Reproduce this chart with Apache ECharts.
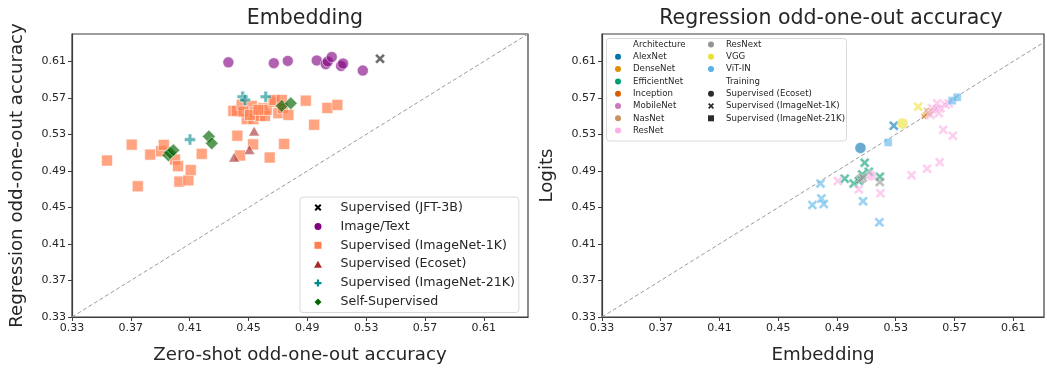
<!DOCTYPE html>
<html>
<head>
<meta charset="utf-8">
<script src="https://cdn.jsdelivr.net/npm/echarts@6.0.0/dist/echarts.min.js"></script>
<style>
  html, body { margin: 0; padding: 0; background: #fff; }
  #chart { width: 1047px; height: 369px; }
</style>
</head>
<body>
<div id="chart"></div>
<script>
// ---- tick labels shared by both panels ----
const tickValues = [0.33, 0.37, 0.41, 0.45, 0.49, 0.53, 0.57, 0.61];
const axisMin = 0.33;
const axisMax = 0.64;
const rightXMax = 0.631;

// ---- left panel: zero-shot vs regression accuracy, by training data ----
const leftGroups = ['Supervised (JFT-3B)', 'Image/Text', 'Supervised (ImageNet-1K)',
                    'Supervised (Ecoset)', 'Supervised (ImageNet-21K)', 'Self-Supervised'];
const jft3b = [[0.5394, 0.613]];
const imageText = [[0.4363, 0.609], [0.4672, 0.608], [0.4767, 0.6105], [0.4964, 0.611],
                   [0.5025, 0.607], [0.5039, 0.610], [0.5066, 0.6148], [0.5129, 0.605],
                   [0.5143, 0.6077], [0.5277, 0.600]];
const imagenet1k = [[0.3538, 0.5014], [0.3706, 0.5188], [0.3747, 0.4732], [0.3832, 0.5079],
                    [0.3905, 0.5115], [0.3924, 0.5185], [0.4000, 0.5025], [0.4021, 0.4952],
                    [0.4030, 0.4783], [0.4091, 0.4797], [0.4107, 0.4909], [0.4182, 0.5087],
                    [0.4424, 0.5286], [0.4442, 0.5069], [0.4531, 0.5191], [0.4644, 0.5047],
                    [0.4742, 0.5196], [0.4889, 0.5670], [0.4946, 0.5406], [0.5036, 0.5590],
                    [0.5104, 0.5623], [0.4397, 0.5558], [0.4420, 0.5558], [0.4454, 0.5623],
                    [0.4488, 0.5468], [0.4522, 0.5612], [0.4533, 0.5468], [0.4544, 0.5540],
                    [0.4578, 0.5503], [0.4601, 0.5587], [0.4612, 0.5503], [0.4624, 0.5569],
                    [0.4669, 0.5659], [0.4676, 0.5677], [0.4703, 0.5533], [0.4726, 0.5677],
                    [0.4733, 0.5587], [0.4771, 0.5514], [0.4465, 0.5550], [0.4510, 0.5514],
                    [0.4567, 0.5569]];
const ecoset = [[0.4402, 0.5050], [0.4506, 0.5134], [0.4538, 0.5337]];
const imagenet21k = [[0.4102, 0.5243], [0.4460, 0.5713], [0.4476, 0.5677], [0.4617, 0.5713]];
const selfSupervised = [[0.3955, 0.5072], [0.3966, 0.5098], [0.3989, 0.5126], [0.4230, 0.5278],
                        [0.4250, 0.5202], [0.4726, 0.5612], [0.4787, 0.5641]];

// ---- right panel: embedding vs logits accuracy, by architecture ----
// each point: [embedding, logits, training index]
const trainingNames = ['Supervised (Ecoset)', 'Supervised (ImageNet-1K)', 'Supervised (ImageNet-21K)'];
const architectures = ['AlexNet', 'DenseNet', 'EfficientNet', 'Inception', 'MobileNet',
                       'NasNet', 'ResNet', 'ResNext', 'VGG', 'ViT-IN'];
const alexnet = [[0.5060, 0.5152, 0], [0.5287, 0.5395, 1]];
const densenet = [[0.5503, 0.5514, 1], [0.5525, 0.5545, 1], [0.5540, 0.5560, 1]];
const efficientnet = [[0.5089, 0.4989, 1], [0.4953, 0.4815, 1], [0.5014, 0.4761, 1],
                      [0.5072, 0.4862, 1], [0.5117, 0.4891, 1], [0.5192, 0.4837, 1],
                      [0.5049, 0.4789, 1]];
const inception = [[0.5492, 0.5496, 1], [0.5515, 0.5530, 1]];
const mobilenet = [[0.5560, 0.5560, 1], [0.5575, 0.5590, 1]];
const nasnet = [[0.5510, 0.5565, 1], [0.5530, 0.5525, 1]];
const resnet = [[0.5133, 0.4851, 0], [0.4906, 0.4789, 1], [0.5049, 0.4699, 1], [0.5196, 0.4656, 1],
                [0.5408, 0.4854, 1], [0.5514, 0.4924, 1], [0.5600, 0.4996, 1], [0.5624, 0.5351, 1],
                [0.5689, 0.5286, 1], [0.5583, 0.5641, 1], [0.5605, 0.5587, 1], [0.5549, 0.5587, 1],
                [0.5639, 0.5623, 1], [0.5594, 0.5533, 1], [0.5537, 0.5514, 1], [0.5662, 0.5641, 1]];
const resnext = [[0.5060, 0.4808, 1], [0.5192, 0.4778, 1], [0.5075, 0.4826, 1]];
const vgg = [[0.5346, 0.5420, 0], [0.5453, 0.5604, 1]];
const vitIn = [[0.5249, 0.5213, 2], [0.5685, 0.5670, 2], [0.5719, 0.5707, 2], [0.4788, 0.4761, 1],
               [0.4733, 0.4528, 1], [0.4794, 0.4598, 1], [0.4810, 0.4539, 1], [0.5078, 0.4569, 1],
               [0.5189, 0.4337, 1]];

// ---- styling ----
const FONT = 'DejaVu Sans';
const INK = '#262626';
const SPINE = '#3d3d3d';
// marker outlines as paths so they keep a square aspect everywhere
const X_PATH = 'path://M0,2L2,0L5,3L8,0L10,2L7,5L10,8L8,10L5,7L2,10L0,8L3,5Z';
const PLUS_PATH = 'path://M3.4,0H6.6V3.4H10V6.6H6.6V10H3.4V6.6H0V3.4H3.4Z';
const SQUARE_PATH = 'path://M0,0H10V10H0Z';
const TRIANGLE_PATH = 'path://M5,0.6L10,9.4H0Z';
const DIAMOND_PATH = 'path://M5,0L10,5L5,10L0,5Z';

const leftStyles = {
  'Supervised (JFT-3B)':       { color: '#000000', symbol: X_PATH,        size: 10, opacity: 0.6 },
  'Image/Text':                { color: '#800080', symbol: 'circle',      size: 11, opacity: 0.62 },
  'Supervised (ImageNet-1K)':  { color: '#ff7f50', symbol: SQUARE_PATH,   size: 11, opacity: 0.72 },
  'Supervised (Ecoset)':       { color: '#a52a2a', symbol: TRIANGLE_PATH, size: 11, opacity: 0.6 },
  'Supervised (ImageNet-21K)': { color: '#008b8b', symbol: PLUS_PATH,     size: 11, opacity: 0.6 },
  'Self-Supervised':           { color: '#006400', symbol: DIAMOND_PATH,  size: 13, opacity: 0.65 }
};
const leftData = {
  'Supervised (JFT-3B)': jft3b,
  'Image/Text': imageText,
  'Supervised (ImageNet-1K)': imagenet1k,
  'Supervised (Ecoset)': ecoset,
  'Supervised (ImageNet-21K)': imagenet21k,
  'Self-Supervised': selfSupervised
};

const archColors = {
  'AlexNet': '#0173b2', 'DenseNet': '#de8f05', 'EfficientNet': '#029e73', 'Inception': '#d55e00',
  'MobileNet': '#cc78bc', 'NasNet': '#ca9161', 'ResNet': '#fbafe4', 'ResNext': '#949494',
  'VGG': '#ece133', 'ViT-IN': '#56b4e9'
};
const archData = {
  'AlexNet': alexnet, 'DenseNet': densenet, 'EfficientNet': efficientnet, 'Inception': inception,
  'MobileNet': mobilenet, 'NasNet': nasnet, 'ResNet': resnet, 'ResNext': resnext,
  'VGG': vgg, 'ViT-IN': vitIn
};
const smallArchs = ['DenseNet', 'Inception', 'MobileNet', 'NasNet'];
const trainSymbols = ['circle', X_PATH, SQUARE_PATH];
const trainSizes = [11, 10, 8];

function valueAxis(gridIndex, max, name, gap) {
  return {
    type: 'value', gridIndex, min: axisMin, max,
    name, nameLocation: 'middle', nameGap: gap,
    nameTextStyle: { fontSize: 18.2, color: INK, fontFamily: FONT },
    axisLine: { show: true, onZero: false, lineStyle: { color: SPINE, width: 1.2 } },
    axisTick: { show: true, length: 4, customValues: tickValues, lineStyle: { color: SPINE, width: 1 } },
    axisLabel: { customValues: tickValues, formatter: v => v.toFixed(2), fontSize: 11,
                 color: INK, fontFamily: FONT, margin: 6 },
    splitLine: { show: false }
  };
}

const series = [];

// identity reference lines
series.push({
  type: 'line', xAxisIndex: 0, yAxisIndex: 0, silent: true, symbol: 'none', z: 1,
  data: [[axisMin, axisMin], [axisMax, axisMax]],
  lineStyle: { color: '#9a9a9a', width: 1, type: [4, 2.5] }
});
series.push({
  type: 'line', xAxisIndex: 1, yAxisIndex: 1, silent: true, symbol: 'none', z: 1,
  data: [[axisMin, axisMin], [rightXMax, rightXMax]],
  lineStyle: { color: '#9a9a9a', width: 1, type: [4, 2.5] }
});

leftGroups.forEach(name => {
  const s = leftStyles[name];
  series.push({
    name, type: 'scatter', xAxisIndex: 0, yAxisIndex: 0,
    data: leftData[name],
    symbol: s.symbol, symbolSize: s.size, symbolKeepAspect: true,
    itemStyle: { color: s.color, opacity: s.opacity, borderColor: '#ffffff', borderWidth: 0.8 },
    emphasis: { disabled: true }
  });
});

// header rows of the right legend
['Architecture', 'Training'].forEach(name => {
  series.push({ name, type: 'scatter', xAxisIndex: 1, yAxisIndex: 1, data: [],
                itemStyle: { color: 'rgba(0,0,0,0)' } });
});

architectures.forEach(name => {
  const small = smallArchs.includes(name);
  series.push({
    name, type: 'scatter', xAxisIndex: 1, yAxisIndex: 1,
    data: archData[name],
    symbol: v => trainSymbols[v[2]],
    symbolSize: v => small ? 6 : trainSizes[v[2]],
    symbolKeepAspect: true,
    itemStyle: { color: archColors[name], opacity: 0.6, borderColor: '#ffffff', borderWidth: 0.5 },
    emphasis: { disabled: true }
  });
});

const rightLegendCol1 = ['Architecture', 'AlexNet', 'DenseNet', 'EfficientNet', 'Inception',
                         'MobileNet', 'NasNet', 'ResNet'];
const rightLegendCol2 = ['ResNext', 'VGG', 'ViT-IN', 'Training'].concat(trainingNames);

function rightLegendItem(name) {
  if (name === 'Architecture' || name === 'Training') {
    return { name, icon: 'circle', itemStyle: { color: 'rgba(0,0,0,0)' } };
  }
  const ti = trainingNames.indexOf(name);
  if (ti >= 0) {
    return { name, icon: trainSymbols[ti], itemStyle: { color: '#2b2b2b' } };
  }
  return { name, icon: 'circle', itemStyle: { color: archColors[name] } };
}

const rightLegendBase = {
  orient: 'vertical', top: 40, itemWidth: 20, itemHeight: 6, itemGap: 3.3, padding: 0,
  selectedMode: false, symbolKeepAspect: true,
  textStyle: { fontSize: 8.6, color: INK, fontFamily: FONT },
  itemStyle: { opacity: 1, borderWidth: 0 }
};

const titleStyle = { fontSize: 20.5, fontWeight: 'normal', color: INK, fontFamily: FONT };

const option = {
  animation: false,
  backgroundColor: '#ffffff',
  textStyle: { fontFamily: FONT },
  title: [
    { text: 'Embedding', left: 300, top: 3, textAlign: 'center', textStyle: titleStyle },
    { text: 'Regression odd-one-out accuracy', left: 826, top: 3, textAlign: 'center',
      textStyle: titleStyle }
  ],
  grid: [
    { left: 72, right: 519, top: 34, bottom: 50, show: true, borderColor: SPINE, borderWidth: 1.2 },
    { left: 602, right: 3, top: 34, bottom: 50, show: true, borderColor: SPINE, borderWidth: 1.2 }
  ],
  xAxis: [
    valueAxis(0, axisMax, 'Zero-shot odd-one-out accuracy', 29),
    valueAxis(1, rightXMax, 'Embedding', 29)
  ],
  yAxis: [
    valueAxis(0, axisMax, 'Regression odd-one-out accuracy', 46),
    valueAxis(1, axisMax, 'Logits', 46)
  ],
  legend: [
    {
      data: leftGroups.map(name => ({ name, icon: leftStyles[name].symbol,
                                      itemStyle: { color: leftStyles[name].color } })),
      orient: 'vertical', left: 300, top: 197, itemWidth: 35, itemHeight: 7, itemGap: 5.9,
      padding: [4, 4, 4, 14], selectedMode: false, symbolKeepAspect: true,
      backgroundColor: 'rgba(255,255,255,0.85)', borderColor: '#d9d9d9', borderWidth: 1, borderRadius: 3,
      textStyle: { fontSize: 12.6, color: INK, fontFamily: FONT },
      itemStyle: { opacity: 1, borderWidth: 0 }
    },
    Object.assign({}, rightLegendBase, { left: 615, data: rightLegendCol1.map(rightLegendItem) }),
    Object.assign({}, rightLegendBase, { left: 708, data: rightLegendCol2.map(rightLegendItem) })
  ],
  graphic: [
    { type: 'rect', z: 3, silent: true,
      shape: { x: 606.5, y: 38.5, width: 240, height: 102.5, r: 3 },
      style: { fill: 'rgba(255,255,255,0.85)', stroke: '#d9d9d9', lineWidth: 1 } }
  ],
  series
};

const chart = echarts.init(document.getElementById('chart'), null, { renderer: 'canvas' });
chart.setOption(option);
</script>
</body>
</html>
